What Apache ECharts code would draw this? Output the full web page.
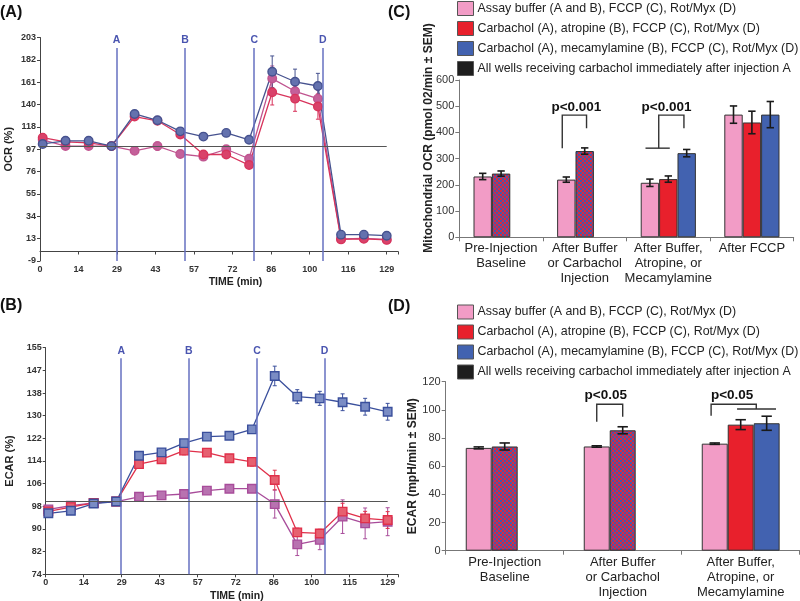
<!DOCTYPE html>
<html><head><meta charset="utf-8">
<script src="https://cdn.jsdelivr.net/npm/echarts@6/dist/echarts.min.js"></script>
<style>html,body{margin:0;padding:0;background:#fff}#c{width:800px;height:601px}</style>
</head><body><div id="c"></div>
<script>
// ---------------- DATA ----------------
const timePoints = [1.0, 9.5, 18.1, 26.6, 35.2, 43.7, 52.2, 60.8, 69.3, 77.8, 86.4, 94.9, 103.4, 112.0, 120.5, 129.0];
const injectionTimes = [28.5, 54.0, 79.7, 105.2];
const injectionNames = ['A', 'B', 'C', 'D'];
const timeTicksA = ['0', '14', '29', '43', '57', '72', '86', '100', '116', '129'];
const timeTicksB = ['0', '14', '29', '43', '57', '72', '86', '100', '115', '129'];
const ocrTicks = ['-9', '13', '34', '55', '76', '97', '118', '140', '161', '182', '203'];
const ecarTicks = ['74', '82', '90', '98', '106', '114', '122', '130', '138', '147', '155'];

// Panel A: OCR (%)
const ocrBuffer    = [106, 100, 100, 100, 95.5, 100, 92.5, 90, 97, 88, 164, 152, 145, 12, 12.5, 11.5];
const ocrAtropine  = [108, 104, 103, 100, 128, 124, 111, 92, 92, 82, 151, 145, 137.5, 11.5, 12, 11];
const ocrMecamyl   = [102, 105, 105, 100, 130.5, 124.5, 114, 109, 112.5, 106, 170.5, 161, 157, 16, 16, 15];
const ocrBufferErr   = [2, 1.5, 1.5, 0, 1.5, 4, 1.5, 1.5, 2, 2, 12, 10, 8, 1, 1, 1];
const ocrAtropineErr = [2, 1.5, 1.5, 0, 2, 2, 2, 2, 2, 2, 12, 12, 12, 1, 1, 1];
const ocrMecamylErr  = [2, 1.5, 1.5, 0, 2, 2, 1.5, 1.5, 1.5, 1.5, 15, 12, 12, 1, 1, 1];

// Panel B: ECAR (%)
const ecarBuffer   = [97.2, 98.5, 99.5, 100, 101.7, 102.2, 102.7, 103.9, 104.6, 104.6, 99.1, 84.7, 86.3, 94.6, 92.2, 92.8];
const ecarAtropine = [96.5, 98, 99.5, 100, 113.4, 115.1, 118.2, 117.5, 115.5, 114.2, 107.7, 89, 88.6, 96.4, 94, 93.4];
const ecarMecamyl  = [95.8, 96.7, 99.3, 100, 116.4, 117.6, 120.9, 123.2, 123.5, 125.8, 144.9, 137.5, 136.9, 135.5, 133.9, 132.1];
const ecarBufferErr   = [1, 1, 0.5, 0, 1, 1, 1, 1, 1, 1, 5, 4, 3.5, 6, 5.5, 5];
const ecarAtropineErr = [1, 1, 0.5, 0, 1, 1, 1.5, 1, 1, 1.5, 3.5, 1.5, 1.5, 3, 2.5, 3];
const ecarMecamylErr  = [1, 1, 0.5, 0, 1, 1, 1, 1, 1, 1, 3.5, 2.5, 2.5, 3, 3, 3];

// Panel C: Mitochondrial OCR bars
const groupsC = ['Pre-Injection\nBaseline', 'After Buffer\nor Carbachol\nInjection', 'After Buffer,\nAtropine, or\nMecamylamine', 'After FCCP'];
const ocrBarBuffer     = [232, 220, 208, 468];
const ocrBarAtropine   = [null, null, 222, 438];
const ocrBarMecamyl    = [null, null, 321, 468];
const ocrBarCarbachol  = [243, 329, null, null];
const ocrBarBufferErr    = [12, 10, 14, 33];
const ocrBarAtropineErr  = [null, null, 12, 43];
const ocrBarMecamylErr   = [null, null, 14, 50];
const ocrBarCarbacholErr = [10, 12, null, null];

// Panel D: ECAR bars
const groupsD = ['Pre-Injection\nBaseline', 'After Buffer\nor Carbachol\nInjection', 'After Buffer,\nAtropine, or\nMecamylamine'];
const ecarBarBuffer    = [73, 74, 76];
const ecarBarAtropine  = [null, null, 89.5];
const ecarBarMecamyl   = [null, null, 90.5];
const ecarBarCarbachol = [74, 85.5, null];
const ecarBarBufferErr    = [0.7, 0.5, 0.5];
const ecarBarAtropineErr  = [null, null, 3.5];
const ecarBarMecamylErr   = [null, null, 5];
const ecarBarCarbacholErr = [2.5, 2.5, null];

const legendNames = [
  'Assay buffer (A and B), FCCP (C), Rot/Myx (D)',
  'Carbachol (A), atropine (B), FCCP (C), Rot/Myx (D)',
  'Carbachol (A), mecamylamine (B), FCCP (C), Rot/Myx (D)',
  'All wells receiving carbachol immediately after injection A'
];
const sigLabelC = 'p<0.001';
const sigLabelD = 'p<0.05';

// ---------------- RENDER ----------------
const FONT = '"Liberation Sans", Arial, sans-serif';
const chart = echarts.init(document.getElementById('c'), null, {renderer: 'canvas', width: 800, height: 601});

const PINK = '#f29cc6', RED = '#e8202c', BLUE = '#4262b0';
const GAP = 0.34;

function makeHatch() {
  const c = document.createElement('canvas');
  c.width = 4; c.height = 4;
  const g = c.getContext('2d');
  g.fillStyle = '#d82a40'; g.fillRect(0, 0, 4, 4);
  g.fillStyle = '#4a56a8'; g.fillRect(0, 0, 2, 2); g.fillRect(2, 2, 2, 2);
  return c;
}
const HATCH = {image: makeHatch(), repeat: 'repeat'};

function tickFmt(labels, min, interval) {
  return function (v) {
    const k = (v - min) / interval, i = Math.round(k);
    return (Math.abs(k - i) < 1e-3 && labels[i] != null) ? labels[i] : '';
  };
}

function lineSeries(name, xi, yi, vals, color, fill, symbol) {
  return {
    type: 'line', name: name, xAxisIndex: xi, yAxisIndex: yi,
    data: timePoints.map((t, i) => [t, vals[i]]),
    symbol: symbol, symbolSize: 8.5, showSymbol: true,
    lineStyle: {color: color, width: 1.3},
    itemStyle: {color: fill, borderColor: color, borderWidth: 1.4},
    z: 4, animation: false, silent: true
  };
}

function lineErr(xi, yi, vals, errs, color) {
  return {
    type: 'custom', xAxisIndex: xi, yAxisIndex: yi, silent: true, z: 3, animation: false,
    data: timePoints.map((t, i) => [t, vals[i], errs[i]]),
    encode: {x: 0, y: 1},
    renderItem: function (p, api) {
      const x = api.value(0), y = api.value(1), e = api.value(2);
      if (!e) return;
      const t = api.coord([x, y + e]), b = api.coord([x, y - e]);
      const st = {stroke: color, lineWidth: 1};
      return {type: 'group', children: [
        {type: 'line', shape: {x1: t[0], y1: t[1], x2: b[0], y2: b[1]}, style: st},
        {type: 'line', shape: {x1: t[0] - 2, y1: t[1], x2: t[0] + 2, y2: t[1]}, style: st},
        {type: 'line', shape: {x1: b[0] - 2, y1: b[1], x2: b[0] + 2, y2: b[1]}, style: st}
      ]};
    }
  };
}

function barSeries(name, xi, yi, vals, color, stack) {
  return {
    type: 'bar', name: name, xAxisIndex: xi, yAxisIndex: yi, data: vals, stack: stack,
    barGap: '0%', barCategoryGap: (GAP * 100) + '%',
    itemStyle: {color: color, borderColor: '#333', borderWidth: 1},
    animation: false, silent: true
  };
}

function barErr(xi, yi, vals, errs, slot) {
  const data = [];
  vals.forEach((v, i) => { if (v != null) data.push([i, v, errs[i]]); });
  return {
    type: 'custom', xAxisIndex: xi, yAxisIndex: yi, silent: true, z: 5, animation: false,
    data: data, encode: {x: 0, y: 1},
    renderItem: function (p, api) {
      const c = api.value(0), v = api.value(1), e = api.value(2);
      const bw = api.size([1, 0])[0] * (1 - GAP) / 3;
      const x = api.coord([c, v])[0] + slot * bw;
      const yt = api.coord([c, v + e])[1], yb = api.coord([c, v - e])[1];
      const cap = Math.max(3, bw * 0.2);
      const st = {stroke: '#1a1a1a', lineWidth: 1.6};
      return {type: 'group', children: [
        {type: 'line', shape: {x1: x, y1: yt, x2: x, y2: yb}, style: st},
        {type: 'line', shape: {x1: x - cap, y1: yt, x2: x + cap, y2: yt}, style: st},
        {type: 'line', shape: {x1: x - cap, y1: yb, x2: x + cap, y2: yb}, style: st}
      ]};
    }
  };
}

// bracket annotations: group index, polylines in (slot, value), label position (slot, value)
function brackets(xi, yi, specs, label) {
  return {
    type: 'custom', xAxisIndex: xi, yAxisIndex: yi, silent: true, z: 6, animation: false,
    data: specs.map(s => [s.g, s.tv]), encode: {x: 0, y: 1},
    renderItem: function (p, api) {
      const s = specs[p.dataIndex];
      const bw = api.size([1, 0])[0] * (1 - GAP) / 3;
      const pt = (sl, v) => { const c = api.coord([s.g, v]); return [c[0] + sl * bw, c[1]]; };
      const ch = s.lines.map(L => ({
        type: 'polyline', shape: {points: L.map(q => pt(q[0], q[1]))},
        style: {stroke: '#333', lineWidth: 1.4, fill: null}
      }));
      const tp = pt(s.ts, s.tv);
      ch.push({type: 'text', x: tp[0], y: tp[1], style: {text: label, font: 'bold 13.5px ' + FONT, fill: '#111', align: 'center', verticalAlign: 'middle'}});
      return {type: 'group', children: ch};
    }
  };
}

function injectionMarks(yMin, yTop) {
  return {
    symbol: ['none', 'none'], silent: true, animation: false,
    lineStyle: {color: '#6670c0', width: 1.5, type: 'solid'},
    label: {show: true, position: 'end', formatter: '{b}', color: '#4a55b0', fontWeight: 'bold', fontSize: 10.5, fontFamily: FONT, distance: 2},
    data: injectionTimes.map((t, i) => [
      {name: injectionNames[i], coord: [t, yMin]},
      {coord: [t, yTop]}
    ]).concat([[
      {name: '', coord: [0, 100], lineStyle: {color: '#555', width: 1.2}, label: {show: false}},
      {coord: ['max', 100]}
    ]])
  };
}

const boldTick = {fontSize: 9, fontWeight: 'bold', color: '#333', fontFamily: FONT, margin: 4};
const darkAxis = {show: true, lineStyle: {color: '#444', width: 1}};
const darkTick = {show: true, length: 3, lineStyle: {color: '#444'}};

function valueAxisX(gi, max, labels, padLeft) {
  return {
    type: 'value', gridIndex: gi, min: 0, max: max, interval: 129 / 9,
    axisLine: darkAxis, axisTick: darkTick, splitLine: {show: false},
    axisLabel: Object.assign({formatter: tickFmt(labels, 0, 129 / 9)}, boldTick),
    name: 'TIME (min)', nameLocation: 'middle', nameGap: 16,
    nameTextStyle: {fontWeight: 'bold', fontSize: 10.5, color: '#222', fontFamily: FONT, padding: [0, 0, 0, padLeft]}
  };
}
function valueAxisY(gi, min, max, interval, labels, name, gap) {
  return {
    type: 'value', gridIndex: gi, min: min, max: max, interval: interval,
    axisLine: darkAxis, axisTick: darkTick, splitLine: {show: false},
    axisLabel: Object.assign({formatter: tickFmt(labels, min, interval)}, boldTick),
    name: name, nameLocation: 'middle', nameGap: gap,
    nameTextStyle: {fontWeight: 'bold', fontSize: 11, color: '#222', fontFamily: FONT}
  };
}
function catAxis(gi, cats) {
  return {
    type: 'category', gridIndex: gi, data: cats,
    axisLine: {show: true, lineStyle: {color: '#777'}},
    axisTick: {show: true, length: 4, lineStyle: {color: '#777'}},
    axisLabel: {fontSize: 13, color: '#222', fontFamily: FONT, lineHeight: 15, margin: 4, interval: 0}
  };
}
function barAxisY(gi, max, interval, name, gap) {
  return {
    type: 'value', gridIndex: gi, min: 0, max: max, interval: interval,
    axisLine: {show: true, lineStyle: {color: '#777'}},
    axisTick: {show: true, length: 4, lineStyle: {color: '#777'}},
    splitLine: {show: false},
    axisLabel: {fontSize: 11, color: '#333', fontFamily: FONT, margin: 5},
    name: name, nameLocation: 'middle', nameGap: gap,
    nameTextStyle: {fontWeight: 'bold', fontSize: 12, color: '#222', fontFamily: FONT}
  };
}

const legendData = [
  {name: legendNames[0], itemStyle: {color: PINK}},
  {name: legendNames[1], itemStyle: {color: RED}},
  {name: legendNames[2], itemStyle: {color: BLUE}},
  {name: legendNames[3], itemStyle: {color: '#1e1e1e'}}
];
function legendAt(top) {
  return {
    left: 457, top: top, orient: 'vertical', data: legendData, icon: 'rect', padding: 0,
    itemWidth: 16, itemHeight: 14, itemGap: 5, selectedMode: false,
    itemStyle: {borderColor: '#555', borderWidth: 1},
    textStyle: {fontSize: 12.4, color: '#222', fontFamily: FONT, padding: [0, 0, 0, -1]}
  };
}

const gridBase = {containLabel: false, outerBoundsMode: 'none'};
const option = {
  backgroundColor: '#fff',
  animation: false,
  textStyle: {fontFamily: FONT},
  grid: [
    Object.assign({left: 40, top: 37.5, width: 358, height: 223.5}, gridBase),
    Object.assign({left: 45.7, top: 347.7, width: 352.3, height: 226.6}, gridBase),
    Object.assign({left: 459.3, top: 80, width: 334.4, height: 157.3}, gridBase),
    Object.assign({left: 445.7, top: 381.7, width: 354, height: 169}, gridBase)
  ],
  xAxis: [
    valueAxisX(0, 133.2, timeTicksA, 33),
    valueAxisX(1, 132.9, timeTicksB, 30),
    catAxis(2, groupsC),
    catAxis(3, groupsD)
  ],
  yAxis: [
    valueAxisY(0, -9, 203, 21.2, ocrTicks, 'OCR (%)', 26),
    valueAxisY(1, 74, 155, 8.1, ecarTicks, 'ECAR (%)', 30),
    barAxisY(2, 600, 100, '', 0),
    barAxisY(3, 120, 20, 'ECAR (mpH/min \u00B1 SEM)', 22)
  ],
  legend: [legendAt(1), legendAt(304.5)],
  graphic: [
    {type: 'text', left: 0, top: 5, style: {text: '(A)', font: 'bold 16px ' + FONT, fill: '#111'}},
    {type: 'text', left: 0, top: 298, style: {text: '(B)', font: 'bold 16px ' + FONT, fill: '#111'}},
    {type: 'text', left: 388, top: 5, style: {text: '(C)', font: 'bold 16px ' + FONT, fill: '#111'}},
    {type: 'text', left: 388, top: 299, style: {text: '(D)', font: 'bold 16px ' + FONT, fill: '#111'}},
    {type: 'text', x: 429, y: 138, rotation: Math.PI / 2,
     style: {text: 'Mitochondrial OCR (pmol 02/min \u00B1 SEM)', font: 'bold 12px ' + FONT, fill: '#222', align: 'center', verticalAlign: 'middle'}}
  ],
  series: [
    // Panel A
    Object.assign(lineSeries('OCR buffer', 0, 0, ocrBuffer, '#c0548f', '#c4609a', 'circle'), {markLine: injectionMarks(-9, 193)}),
    lineSeries('OCR atropine', 0, 0, ocrAtropine, '#d8345c', '#d9426a', 'circle'),
    lineSeries('OCR mecamylamine', 0, 0, ocrMecamyl, '#46528f', '#6472ae', 'circle'),
    lineErr(0, 0, ocrBuffer, ocrBufferErr, '#c0548f'),
    lineErr(0, 0, ocrAtropine, ocrAtropineErr, '#d8345c'),
    lineErr(0, 0, ocrMecamyl, ocrMecamylErr, '#46528f'),
    // Panel B
    Object.assign(lineSeries('ECAR buffer', 1, 1, ecarBuffer, '#a84c9a', '#b872b0', 'rect'), {markLine: injectionMarks(74, 151.2)}),
    lineSeries('ECAR atropine', 1, 1, ecarAtropine, '#e0304a', '#e66070', 'rect'),
    lineSeries('ECAR mecamylamine', 1, 1, ecarMecamyl, '#3a4f9c', '#7a8cc4', 'rect'),
    lineErr(1, 1, ecarBuffer, ecarBufferErr, '#a84c9a'),
    lineErr(1, 1, ecarAtropine, ecarAtropineErr, '#e0304a'),
    lineErr(1, 1, ecarMecamyl, ecarMecamylErr, '#3a4f9c'),
    // Panel C
    barSeries(legendNames[0], 2, 2, ocrBarBuffer, PINK),
    barSeries(legendNames[1], 2, 2, ocrBarAtropine, RED, 'midC'),
    barSeries(legendNames[3], 2, 2, ocrBarCarbachol, HATCH, 'midC'),
    barSeries(legendNames[2], 2, 2, ocrBarMecamyl, BLUE),
    barErr(2, 2, ocrBarBuffer, ocrBarBufferErr, -1),
    barErr(2, 2, ocrBarAtropine, ocrBarAtropineErr, 0),
    barErr(2, 2, ocrBarCarbachol, ocrBarCarbacholErr, 0),
    barErr(2, 2, ocrBarMecamyl, ocrBarMecamylErr, 1),
    brackets(2, 2, [
      {g: 1, lines: [[[-1.22, 340], [-1.22, 466], [0.1, 466], [0.1, 416]]], ts: -0.45, tv: 497},
      {g: 2, lines: [[[-1.24, 340], [0.08, 340]], [[-0.52, 340], [-0.52, 466], [0.85, 466], [0.85, 416]]], ts: -0.1, tv: 497}
    ], sigLabelC),
    // Panel D
    barSeries(legendNames[0], 3, 3, ecarBarBuffer, PINK),
    barSeries(legendNames[1], 3, 3, ecarBarAtropine, RED, 'midD'),
    barSeries(legendNames[3], 3, 3, ecarBarCarbachol, HATCH, 'midD'),
    barSeries(legendNames[2], 3, 3, ecarBarMecamyl, BLUE),
    barErr(3, 3, ecarBarBuffer, ecarBarBufferErr, -1),
    barErr(3, 3, ecarBarAtropine, ecarBarAtropineErr, 0),
    barErr(3, 3, ecarBarCarbachol, ecarBarCarbacholErr, 0),
    barErr(3, 3, ecarBarMecamyl, ecarBarMecamylErr, 1),
    brackets(3, 3, [
      {g: 1, lines: [[[-1.0, 91.6], [-1.0, 104], [0, 104], [0, 95.2]]], ts: -0.65, tv: 110.6},
      {g: 2, lines: [[[-1.14, 95.9], [-1.14, 104], [0.6, 104], [0.6, 100.6]], [[-0.14, 100.6], [1.36, 100.6]]], ts: -0.33, tv: 110.6}
    ], sigLabelD)
  ]
};
chart.setOption(option);
</script>
</body></html>
